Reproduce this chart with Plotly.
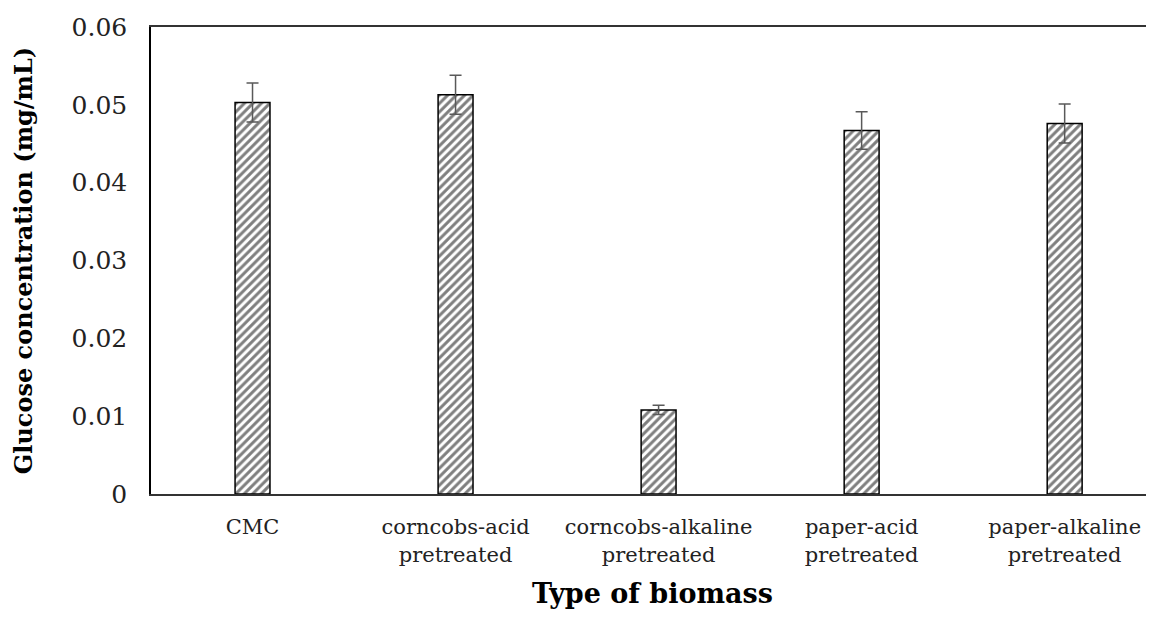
import plotly.graph_objects as go

categories = ["CMC", "corncobs-acid<br>pretreated", "corncobs-alkaline<br>pretreated",
              "paper-acid<br>pretreated", "paper-alkaline<br>pretreated"]
glucose = [0.0503, 0.0513, 0.0108, 0.0467, 0.0476]
errors = [0.0025, 0.0025, 0.0006, 0.0024, 0.0025]
y_ticks = [0, 0.01, 0.02, 0.03, 0.04, 0.05, 0.06]
y_tick_labels = ["0", "0.01", "0.02", "0.03", "0.04", "0.05", "0.06"]

xpos = list(range(len(categories)))
serif = "DejaVu Serif"

fig = go.Figure()
fig.add_trace(go.Bar(
    x=xpos, y=glucose, width=0.172,
    marker=dict(color="white",
                line=dict(color="black", width=1.5),
                pattern=dict(shape="/", fgcolor="black", bgcolor="white", size=6, solidity=0.5)),
    error_y=dict(type="data", array=errors, visible=True, color="#595959", thickness=1.5, width=6),
    showlegend=False,
))

fig.update_layout(
    width=1146, height=620,
    margin=dict(l=143, r=0, t=19, b=134),
    paper_bgcolor="white", plot_bgcolor="white",
    font=dict(family=serif, color="black"),
)
fig.update_xaxes(
    range=[-0.5, 4.44], tickvals=xpos, ticktext=categories,
    tickfont=dict(size=21, family=serif, color="#222"),
    showgrid=False, zeroline=False, automargin=False,
    showline=True, linecolor="#333", linewidth=2, mirror=True,
    ticks="outside", ticklen=13, tickcolor="rgba(0,0,0,0)",
    title=dict(text="<b>Type of biomass</b>", font=dict(size=27, family=serif), standoff=19),
)
fig.update_yaxes(
    range=[0, 0.06], tickvals=y_ticks, ticktext=y_tick_labels,
    tickfont=dict(size=25, family=serif, color="#222"),
    showgrid=False, zeroline=False, automargin=False,
    showline=True, linecolor="black", linewidth=1.5,
    ticks="outside", ticklen=17, tickcolor="rgba(0,0,0,0)",
    title=dict(text="<b>Glucose concentration (mg/mL)</b>", font=dict(size=24, family=serif), standoff=32),
)
fig.write_html("out.html")
